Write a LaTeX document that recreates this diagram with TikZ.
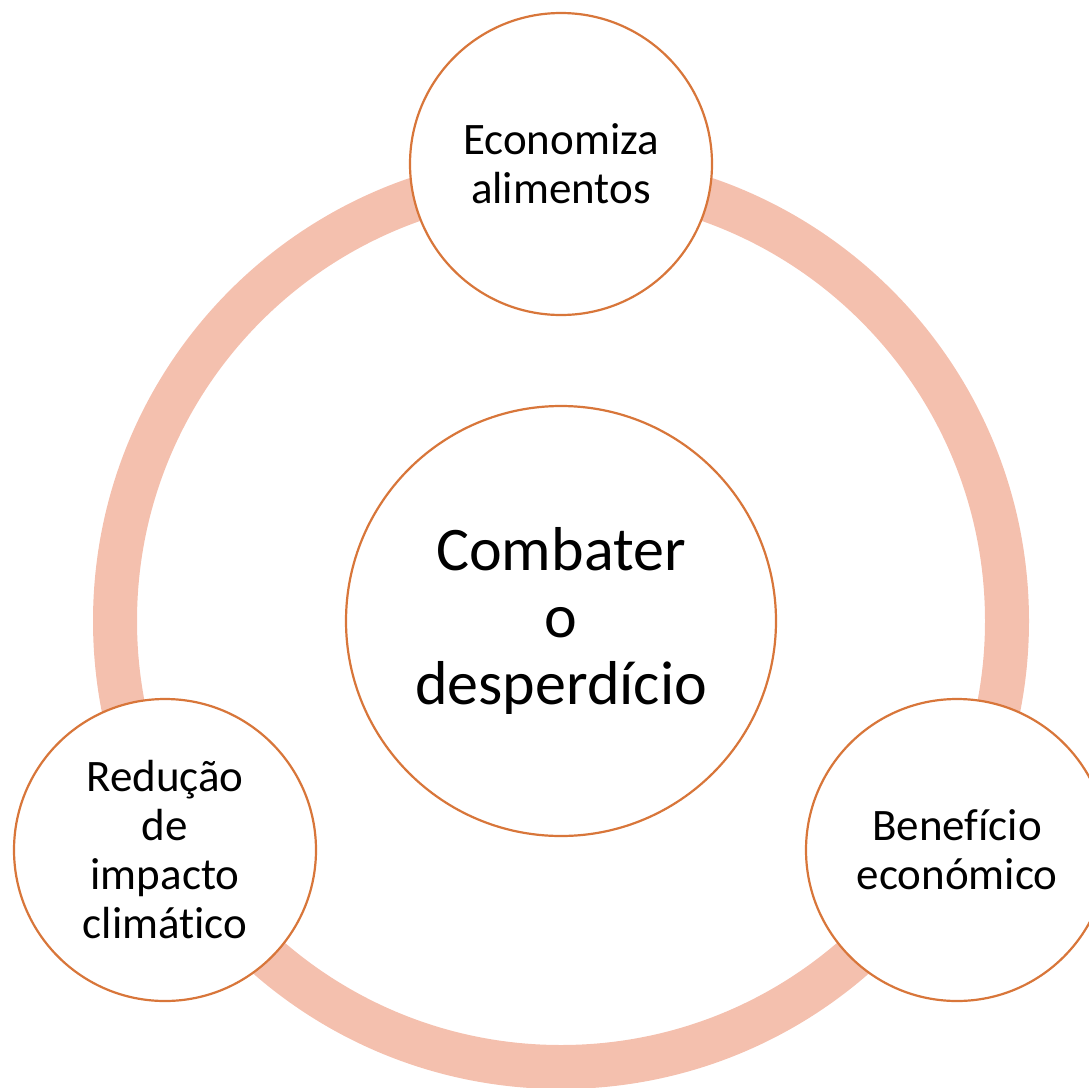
\documentclass[tikz,border=0pt]{standalone}
\usepackage{fontspec}
\setmainfont{Carlito}[Ligatures=NoCommon]
\definecolor{ringc}{HTML}{F4C0AE}
\definecolor{edgec}{HTML}{D8763A}
\begin{document}
\begin{tikzpicture}[x=1pt,y=-1pt,
  bub/.style={circle,draw=edgec,line width=2.2pt,fill=white,inner sep=0pt,align=center,text=black},
  small/.style={bub,minimum size=302pt,font=\fontsize{45}{49}\selectfont},
  big/.style={bub,minimum size=430pt,font=\fontsize{62}{67}\selectfont}]
\useasboundingbox (0,0) rectangle (1089,1087);
\clip (0,0) rectangle (1089,1087);
\coordinate (c) at (561,621);
\draw[ringc,line width=44pt] (c) circle[radius=446];
\node[big] (center) at (561,621) {Combater\\o\\desperdício};
\node[small] (top) at (561,164) {Economiza\\alimentos};
\node[small] (left) at (165,850) {Redução\\de\\impacto\\climático};
\node[small] (right) at (957,850) {Benefício\\económico};
\end{tikzpicture}
\end{document}
